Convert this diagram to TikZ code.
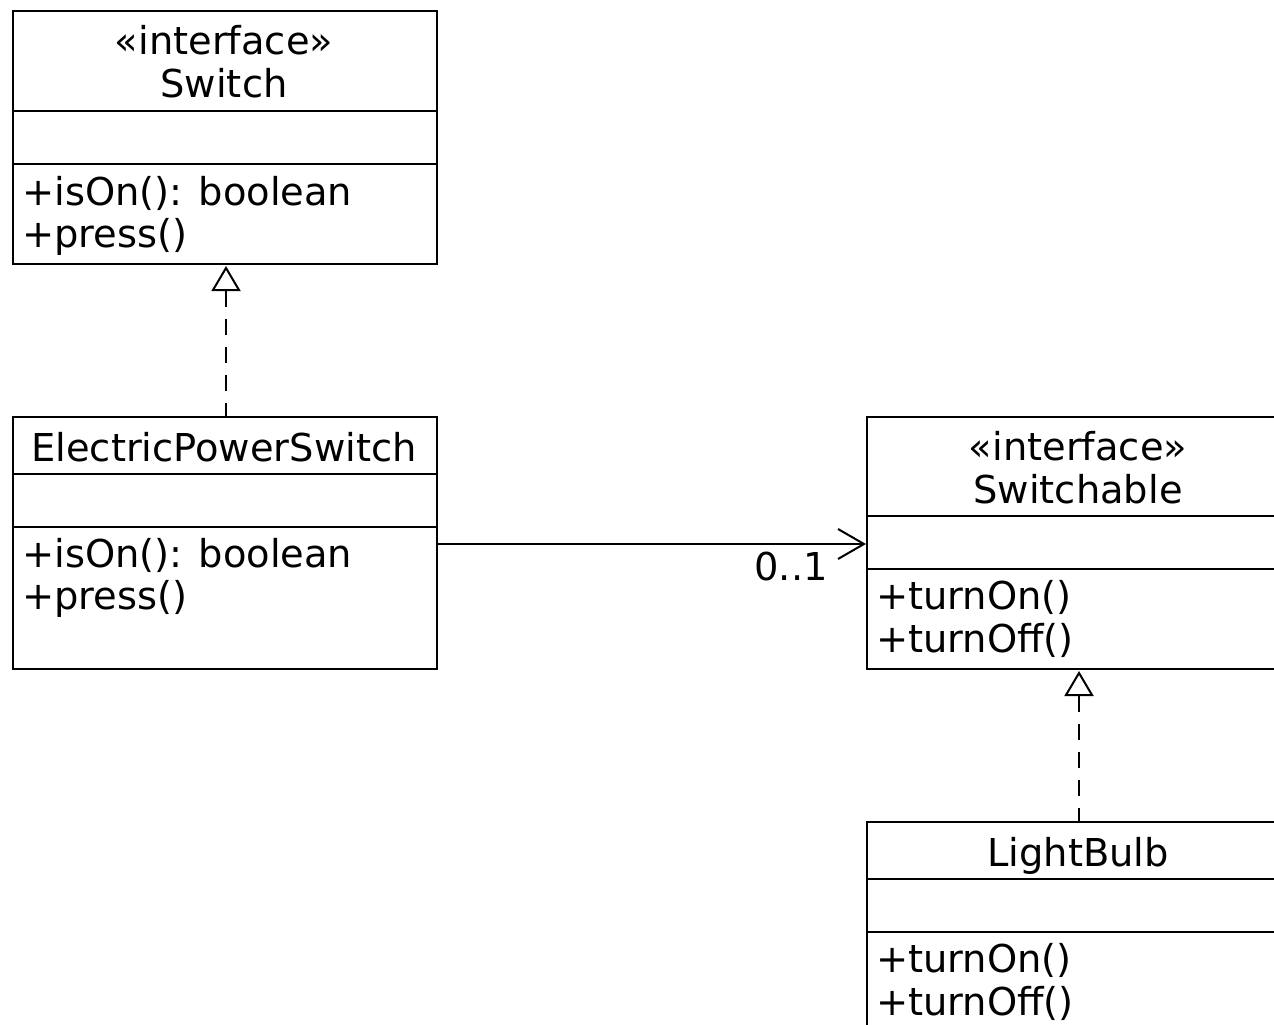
\documentclass[tikz,border=0pt]{standalone}
\usepackage{fontspec}
\setmainfont{DejaVu Sans}
\usetikzlibrary{arrows.meta}
\tikzset{
  umlbox/.style={draw, line width=2pt, rectangle, inner sep=0pt, minimum width=424pt},
  divider/.style={line width=2pt},
  txt/.style={inner sep=0pt, font=\fontsize{38.4}{43}\selectfont},
  realize/.style={line width=2pt, dash pattern=on 16pt off 12pt, {Triangle[open,length=25pt,width=29pt,line width=2pt,sep=0pt]}-},
  assoc/.style={line width=2pt, -{Straight Barb[length=26pt,width=30pt,line width=2pt]}},
}
\begin{document}
\begin{tikzpicture}[x=1pt,y=-1pt]
\clip (0,0) rectangle (1274,1025);
% Switch
\node[umlbox, minimum height=253pt, anchor=north west] (sw) at (12,10) {};
\draw[divider] (12,111) -- (436,111);
\draw[divider] (12,164) -- (436,164);
\node[txt, anchor=base] (swst) at (224,55) {«interface»};
\node[txt, anchor=base] (swn) at (224,97) {Switch};
\node[txt, anchor=base west] (swm1) at (22,205) {+isOn(): boolean};
\node[txt, anchor=base west] (swm2) at (22,247) {+press()};
% ElectricPowerSwitch
\node[umlbox, minimum height=252pt, anchor=north west] (eps) at (12,416) {};
\draw[divider] (12,474) -- (436,474);
\draw[divider] (12,527) -- (436,527);
\node[txt, anchor=base] (epsn) at (224,461) {ElectricPowerSwitch};
\node[txt, anchor=base west] (epsm1) at (22,567) {+isOn(): boolean};
\node[txt, anchor=base west] (epsm2) at (22,609) {+press()};
% Switchable
\node[umlbox, minimum height=252pt, anchor=north west] (swa) at (866,416) {};
\draw[divider] (866,516) -- (1290,516);
\draw[divider] (866,569) -- (1290,569);
\node[txt, anchor=base] (swast) at (1078,460) {«interface»};
\node[txt, anchor=base] (swan) at (1078,503) {Switchable};
\node[txt, anchor=base west] (swam1) at (876,609) {+turnOn()};
\node[txt, anchor=base west] (swam2) at (876,652) {+turnOff()};
% LightBulb
\node[umlbox, minimum height=260pt, anchor=north west] (lb) at (866,821) {};
\draw[divider] (866,879) -- (1290,879);
\draw[divider] (866,932) -- (1290,932);
\node[txt, anchor=base] (lbn) at (1078,866) {LightBulb};
\node[txt, anchor=base west] (lbm1) at (876,972) {+turnOn()};
\node[txt, anchor=base west] (lbm2) at (876,1015) {+turnOff()};
% connectors
\coordinate (swtip) at (226,266);
\coordinate (epstop) at (226,416);
\draw[realize] (swtip) -- (epstop);
\coordinate (swatip) at (1079,671);
\coordinate (lbtop) at (1079,821);
\draw[realize] (swatip) -- (lbtop);
\draw[assoc] (eps.east |- 0,544) -- (swa.west |- 0,544);
\node[txt, anchor=base east] (mult) at (828,580) {0..1};
\end{tikzpicture}
\end{document}
